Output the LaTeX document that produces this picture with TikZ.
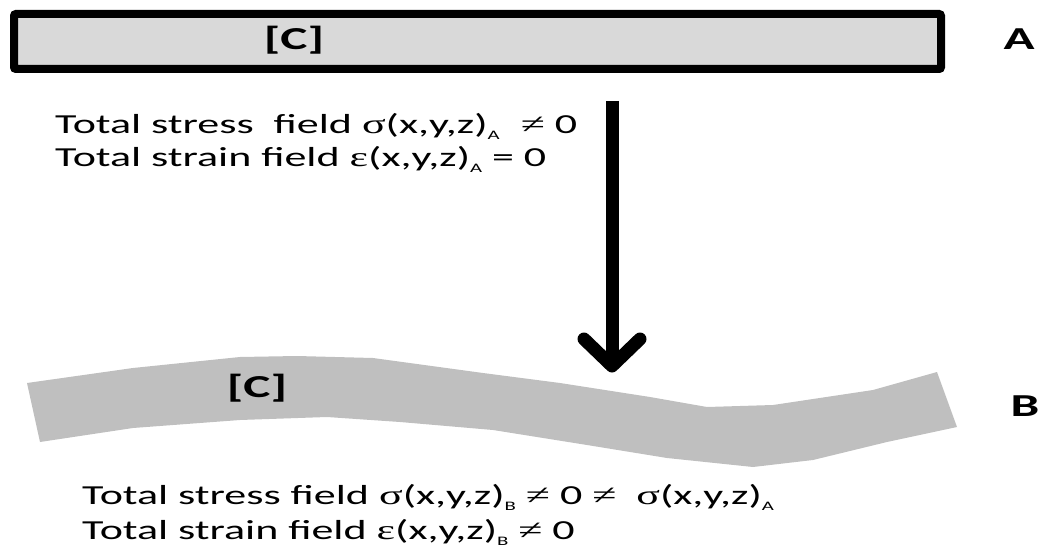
\documentclass[tikz,border=0pt]{standalone}
\usepackage{fontspec}
\setmainfont{Carlito}
\newfontfamily\symf{Liberation Serif}
\definecolor{boxgray}{RGB}{217,217,217}
\definecolor{bandgray}{RGB}{191,191,191}
\newcommand{\lsub}[1]{\raisebox{-6pt}{\fontsize{13}{13}\selectfont #1}}
\newcommand{\wide}[1]{\scalebox{1.6}[1]{#1}}
\begin{document}
\begin{tikzpicture}[x=1pt,y=-1pt,
  eqtext/.style={anchor=base west,inner sep=0pt,font=\fontsize{27.5}{32}\selectfont},
  clabel/.style={inner sep=0pt,font=\fontsize{32}{36}\selectfont\bfseries},
  letter/.style={inner sep=0pt,font=\fontsize{32}{36}\selectfont\bfseries},
  arrowline/.style={line width=13pt,line cap=round,line join=round}]
\useasboundingbox (0,0) rectangle (1041,548);
% state A bar
\draw[line width=8pt,fill=boxgray,rounded corners=2pt] (14,14) rectangle (941,69);
\node[clabel] (ca) at (294,40) {\wide{[C]}};
\node[letter] (la) at (1019,39) {\wide{A}};
% texts A
\node[eqtext] (sa) at (55,134) {\wide{Total stress\ \ field {\symf σ}(x,y,z)\lsub{A}\hspace{7pt} {\symf ≠} 0}};
\node[eqtext] (ea) at (55,167) {\wide{Total strain field {\symf ε}(x,y,z)\lsub{A} = 0}};
% arrow
\coordinate (atop) at (612,101);
\coordinate (atip) at (612,366);
\coordinate (hl) at (584,339);
\coordinate (hr) at (640,339);
\draw[line width=13pt] (atop) -- (atip);
\draw[arrowline] (hl) -- (atip) -- (hr);
% state B band
\fill[bandgray] (27,383) -- (133,368) -- (240,357) -- (297,356) -- (373,358) -- (483,373) -- (560,383) -- (650,397) -- (707,407) -- (773,405) -- (873,390) -- (937,372)
  -- (957,427) -- (887,442) -- (813,460) -- (753,467) -- (667,458) -- (587,445) -- (493,430) -- (400,422) -- (327,417) -- (240,420) -- (133,428) -- (40,442) -- cycle;
\node[clabel] (cb) at (257,388) {\wide{[C]}};
\node[letter] (lb) at (1025,406) {\wide{B}};
% texts B
\node[eqtext] (sb) at (82,504) {\wide{Total stress field {\symf σ}(x,y,z)\lsub{B} {\symf ≠} 0 {\symf ≠}\ \ {\symf σ}(x,y,z)\lsub{A}}};
\node[eqtext] (eb) at (82,539) {\wide{Total strain field {\symf ε}(x,y,z)\lsub{B} {\symf ≠} 0}};
\end{tikzpicture}
\end{document}
